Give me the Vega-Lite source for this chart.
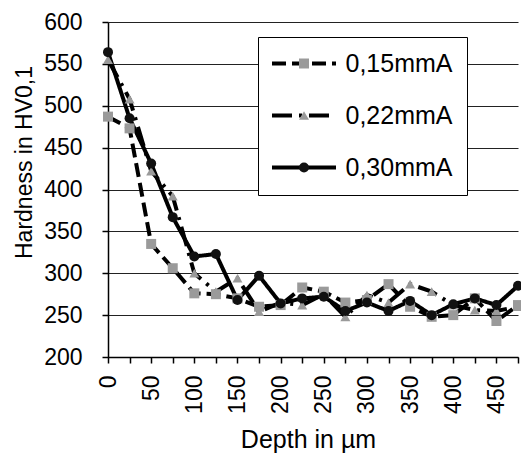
{
  "$schema": "https://vega.github.io/schema/vega-lite/v6.json",
  "width": 410,
  "height": 335,
  "autosize": "none",
  "padding": {"left": 108, "top": 22, "right": 3, "bottom": 97},
  "background": "white",
  "config": {"view": {"stroke": null}, "font": "Liberation Sans"},
  "data": {"values": [
    {"series": "0,15mmA", "depth": 0, "hardness": 487},
    {"series": "0,15mmA", "depth": 25, "hardness": 473},
    {"series": "0,15mmA", "depth": 50, "hardness": 335},
    {"series": "0,15mmA", "depth": 75, "hardness": 306},
    {"series": "0,15mmA", "depth": 100, "hardness": 276},
    {"series": "0,15mmA", "depth": 125, "hardness": 275},
    {"series": "0,15mmA", "depth": 150, "hardness": 270},
    {"series": "0,15mmA", "depth": 175, "hardness": 260},
    {"series": "0,15mmA", "depth": 200, "hardness": 262},
    {"series": "0,15mmA", "depth": 225, "hardness": 283},
    {"series": "0,15mmA", "depth": 250, "hardness": 278},
    {"series": "0,15mmA", "depth": 275, "hardness": 265},
    {"series": "0,15mmA", "depth": 300, "hardness": 268},
    {"series": "0,15mmA", "depth": 325, "hardness": 287},
    {"series": "0,15mmA", "depth": 350, "hardness": 260},
    {"series": "0,15mmA", "depth": 375, "hardness": 248},
    {"series": "0,15mmA", "depth": 400, "hardness": 250},
    {"series": "0,15mmA", "depth": 425, "hardness": 270},
    {"series": "0,15mmA", "depth": 450, "hardness": 243},
    {"series": "0,15mmA", "depth": 475, "hardness": 262},
    {"series": "0,22mmA", "depth": 0, "hardness": 555},
    {"series": "0,22mmA", "depth": 25, "hardness": 508},
    {"series": "0,22mmA", "depth": 50, "hardness": 422},
    {"series": "0,22mmA", "depth": 75, "hardness": 392},
    {"series": "0,22mmA", "depth": 100, "hardness": 300},
    {"series": "0,22mmA", "depth": 125, "hardness": 278},
    {"series": "0,22mmA", "depth": 150, "hardness": 294},
    {"series": "0,22mmA", "depth": 175, "hardness": 254},
    {"series": "0,22mmA", "depth": 200, "hardness": 265},
    {"series": "0,22mmA", "depth": 225, "hardness": 262},
    {"series": "0,22mmA", "depth": 250, "hardness": 275},
    {"series": "0,22mmA", "depth": 275, "hardness": 248},
    {"series": "0,22mmA", "depth": 300, "hardness": 274},
    {"series": "0,22mmA", "depth": 325, "hardness": 265},
    {"series": "0,22mmA", "depth": 350, "hardness": 287},
    {"series": "0,22mmA", "depth": 375, "hardness": 278},
    {"series": "0,22mmA", "depth": 400, "hardness": 262},
    {"series": "0,22mmA", "depth": 425, "hardness": 256},
    {"series": "0,22mmA", "depth": 450, "hardness": 255},
    {"series": "0,22mmA", "depth": 475, "hardness": 260},
    {"series": "0,30mmA", "depth": 0, "hardness": 564},
    {"series": "0,30mmA", "depth": 25, "hardness": 485},
    {"series": "0,30mmA", "depth": 50, "hardness": 431},
    {"series": "0,30mmA", "depth": 75, "hardness": 367},
    {"series": "0,30mmA", "depth": 100, "hardness": 320},
    {"series": "0,30mmA", "depth": 125, "hardness": 323},
    {"series": "0,30mmA", "depth": 150, "hardness": 268},
    {"series": "0,30mmA", "depth": 175, "hardness": 297},
    {"series": "0,30mmA", "depth": 200, "hardness": 264},
    {"series": "0,30mmA", "depth": 225, "hardness": 270},
    {"series": "0,30mmA", "depth": 250, "hardness": 272},
    {"series": "0,30mmA", "depth": 275, "hardness": 255},
    {"series": "0,30mmA", "depth": 300, "hardness": 265},
    {"series": "0,30mmA", "depth": 325, "hardness": 255},
    {"series": "0,30mmA", "depth": 350, "hardness": 267},
    {"series": "0,30mmA", "depth": 375, "hardness": 250},
    {"series": "0,30mmA", "depth": 400, "hardness": 263},
    {"series": "0,30mmA", "depth": 425, "hardness": 270},
    {"series": "0,30mmA", "depth": 450, "hardness": 262},
    {"series": "0,30mmA", "depth": 475, "hardness": 285}
  ]},
  "encoding": {
    "x": {
      "field": "depth", "type": "quantitative",
      "scale": {"domain": [0, 475], "nice": false, "zero": false},
      "axis": {
        "title": "Depth in µm",
        "values": [0,25,50,75,100,125,150,175,200,225,250,275,300,325,350,375,400,425,450,475],
        "labelExpr": "datum.value % 50 === 0 ? datum.label : ''",
        "labelAngle": -90, "labelFontSize": 23, "labelPadding": 12,
        "labelOverlap": false, "labelFlush": false, "labelColor": "black",
        "tickSize": 6, "tickColor": "black", "tickWidth": 1.5,
        "domainColor": "black", "domainWidth": 1.5, "grid": false,
        "titleFontSize": 25, "titleFontWeight": "normal", "titleColor": "black",
        "titleX": 200, "titleY": 90, "titleBaseline": "alphabetic", "titleAlign": "center"
      }
    },
    "y": {
      "field": "hardness", "type": "quantitative",
      "scale": {"domain": [200, 600], "nice": false, "zero": false},
      "axis": {
        "title": "Hardness in HV0,1",
        "values": [200,250,300,350,400,450,500,550,600],
        "grid": true, "gridColor": "#222222", "gridWidth": 1,
        "tickSize": 6, "tickColor": "black", "tickWidth": 1.5,
        "domainColor": "black", "domainWidth": 1.5,
        "labelFontSize": 23, "labelPadding": 20, "labelColor": "black",
        "titleFontSize": 23, "titleFontWeight": "normal", "titleColor": "black",
        "titleX": -77, "titleY": 140, "titleBaseline": "alphabetic", "titleAlign": "center"
      }
    }
  },
  "layer": [
    {
      "mark": {"type": "line", "color": "black", "strokeWidth": 4},
      "encoding": {
        "strokeDash": {
          "field": "series", "type": "nominal",
          "scale": {"domain": ["0,15mmA", "0,22mmA", "0,30mmA"], "range": [[14, 6], [20, 7, 3, 7], [1, 0]]},
          "legend": {
            "title": null, "orient": "none", "legendX": 150, "legendY": 15,
            "fillColor": "white", "strokeColor": "black", "padding": 14,
            "symbolType": "M-3.2,0H3.2", "symbolSize": 400, "symbolStrokeWidth": 4,
            "symbolStrokeColor": "black", "symbolOffset": 19.5,
            "labelOffset": 29, "labelFontSize": 25, "labelColor": "black", "labelLimit": 300,
            "rowPadding": 26
          }
        }
      }
    },
    {
      "mark": {"type": "point", "filled": true, "size": 100, "opacity": 1},
      "encoding": {
        "shape": {
          "field": "series", "type": "nominal",
          "scale": {"range": ["square", "triangle-up", "circle"]},
          "legend": {
            "title": null, "orient": "none", "legendX": 150, "legendY": 15,
            "padding": 14, "symbolSize": 100, "symbolStrokeWidth": 0, "symbolOffset": 19.5,
            "labelOffset": 29, "labelFontSize": 25, "labelColor": "rgba(0,0,0,0)", "labelLimit": 300,
            "rowPadding": 26
          }
        },
        "color": {
          "field": "series", "type": "nominal",
          "scale": {"range": ["#9a9a9a", "#9a9a9a", "#111111"]},
          "legend": {
            "title": null, "orient": "none", "legendX": 150, "legendY": 15,
            "padding": 14, "symbolSize": 100, "symbolStrokeWidth": 0, "symbolOffset": 19.5,
            "labelOffset": 29, "labelFontSize": 25, "labelColor": "rgba(0,0,0,0)", "labelLimit": 300,
            "rowPadding": 26
          }
        }
      }
    }
  ]
}
